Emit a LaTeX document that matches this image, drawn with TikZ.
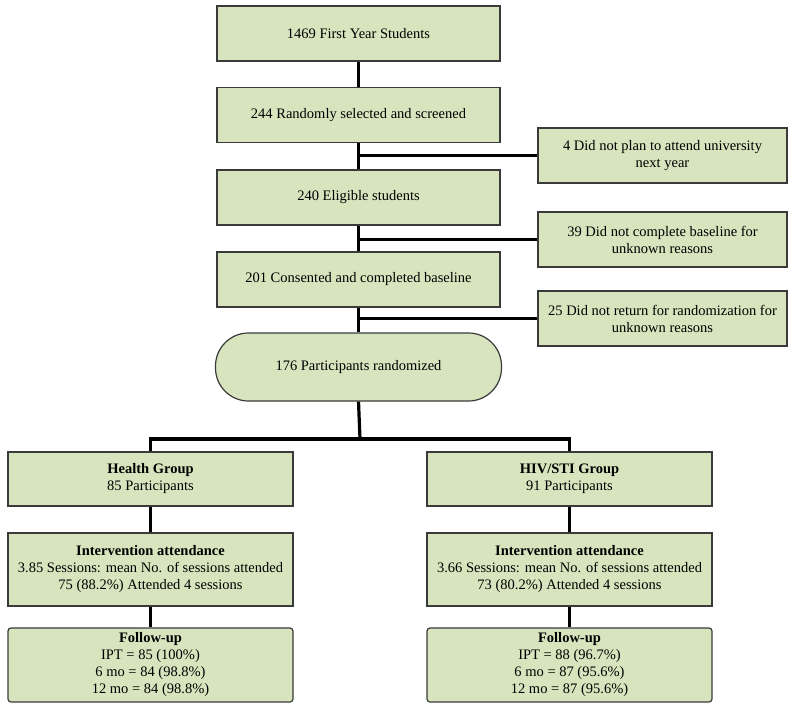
\documentclass[tikz,border=0pt]{standalone}
\usepackage{fontspec}
\setmainfont{Liberation Serif}
\newfontfamily\boxfont{Liberation Serif}
\usetikzlibrary{positioning}
\definecolor{boxgreen}{HTML}{D7E4BD}
\definecolor{boxedge}{HTML}{3A3A3A}
\tikzset{box/.style={draw=boxedge, line width=1.2pt, fill=boxgreen, align=center,
    inner sep=0pt, font=\boxfont\fontsize{14.5}{17}\selectfont},
main/.style={box, minimum width=283pt, minimum height=55pt},
excl/.style={box, minimum width=249pt, minimum height=55pt},
arm/.style={box, minimum width=285pt, minimum height=54pt},
link/.style={line width=3.2pt}
}

\begin{document}
\begin{tikzpicture}[x=1pt, y=-1pt]
       \useasboundingbox (0,0) rectangle (795,709);
       % main column
       \node[main] (first) at (358.5, 33.5) {1469 First Year Students};
       \node[main] (screen) at (358.5, 115) {244 Randomly selected and screened};
       \node[main] (elig) at (358.5, 197.5) {240 Eligible students};
       \node[main] (consent) at (358.5, 279.5) {201 Consented and completed baseline};
       \node[main, rounded corners=33pt, minimum width=286pt, minimum height=68pt] (rand) at (358.5, 367) {176 Participants randomized};

       % exclusions
       \node[excl] (ex1) at (662.5, 155.5) {4 Did not plan to attend university\\next year};
       \node[excl] (ex2) at (662.5, 239.5) {39 Did not complete baseline for\\unknown reasons};
       \node[excl] (ex3) at (662.5, 318.5) {25 Did not return for randomization for\\unknown reasons};

       % arms
       \node[arm] (health) at (150.5, 479) {\textbf{Health Group}\\85 Participants};
       \node[arm] (hiv) at (569.5, 479) {\textbf{HIV/STI Group}\\91 Participants};
       \node[arm, minimum height=73pt] (attH) at (150.5, 569.5) {\textbf{Intervention attendance}\\3.85 Sessions: mean No. of sessions attended\\75 (88.2\%) Attended 4 sessions};
       \node[arm, minimum height=73pt] (attV) at (569.5, 569.5) {\textbf{Intervention attendance}\\3.66 Sessions: mean No. of sessions attended\\73 (80.2\%) Attended 4 sessions};
       \node[arm, minimum height=74pt, rounded corners=3pt] (fupH) at (150.5, 665) {\textbf{Follow-up}\\IPT = 85 (100\%)\\6 mo = 84 (98.8\%)\\12 mo = 84 (98.8\%)};
       \node[arm, minimum height=74pt, rounded corners=3pt] (fupV) at (569.5, 665) {\textbf{Follow-up}\\IPT = 88 (96.7\%)\\6 mo = 87 (95.6\%)\\12 mo = 87 (95.6\%)};

       \coordinate (j1) at (screen.south |- ex1.west);
       \coordinate (j2) at (elig.south |- ex2.west);
       \coordinate (j3) at (consent.south |- ex3.west);
       \coordinate (split) at (360, 439);

       \draw[link] (first) -- (screen);
       \draw[link] (screen) -- (elig);
       \draw[link] (elig) -- (consent);
       \draw[link] (consent) -- (rand);
       \draw[link] (j1) -- (ex1);
       \draw[link] (j2) -- (ex2);
       \draw[link] (j3) -- (ex3);
       \draw[link] (rand.south) -- (split);
       \draw[link] (health.north) |- (split) -| (hiv.north);
       \draw[link] (health) -- (attH);
       \draw[link] (attH) -- (fupH);
       \draw[link] (hiv) -- (attV);
       \draw[link] (attV) -- (fupV);
\end{tikzpicture}
\end{document}
